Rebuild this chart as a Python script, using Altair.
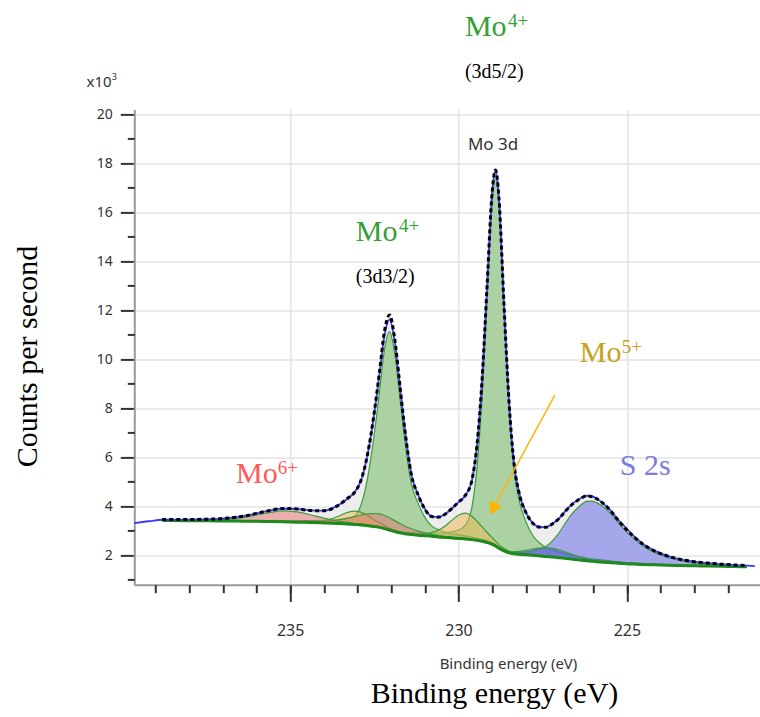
import altair as alt
import pandas as pd

# ---------------------------------------------------------------
# Mo 3d / S 2s XPS region: peak-fit components on a Shirley background
# Binding energy grid (eV) shared by the fit curves
# ---------------------------------------------------------------
energy = [
    238.8, 238.4, 238.0, 237.6, 237.2, 236.8, 236.4, 236.0, 235.6, 235.2,
    234.8, 234.4, 234.0, 233.6, 233.3, 233.1, 232.9, 232.7, 232.5, 232.35,
    232.2, 232.05, 231.9, 231.75, 231.6, 231.4, 231.2, 231.0, 230.8, 230.6,
    230.4, 230.2, 230.0, 229.8, 229.6, 229.45, 229.3, 229.15, 229.0, 228.9,
    228.8, 228.65, 228.5, 228.35, 228.2, 228.0, 227.8, 227.6, 227.4, 227.2,
    227.0, 226.8, 226.6, 226.4, 226.2, 226.05, 225.9, 225.7, 225.5, 225.3,
    225.1, 224.8, 224.5, 224.2, 223.8, 223.4, 223.0, 222.6, 222.2, 221.8, 221.45,
]

# Shirley background (counts per second, x10^3)
background = [
    3.42, 3.42, 3.41, 3.41, 3.40, 3.40, 3.39, 3.39, 3.38, 3.37,
    3.35, 3.34, 3.32, 3.30, 3.28, 3.26, 3.24, 3.21, 3.17, 3.14,
    3.09, 3.03, 2.97, 2.92, 2.88, 2.85, 2.82, 2.80, 2.78, 2.75,
    2.73, 2.71, 2.69, 2.67, 2.64, 2.61, 2.57, 2.52, 2.45, 2.38,
    2.29, 2.18, 2.10, 2.06, 2.04, 2.02, 2.00, 1.98, 1.95, 1.93,
    1.90, 1.87, 1.84, 1.81, 1.78, 1.76, 1.74, 1.72, 1.70, 1.68,
    1.66, 1.64, 1.62, 1.61, 1.59, 1.58, 1.57, 1.56, 1.55, 1.54, 1.53,
]

# Component intensities above the background (x10^3 cps)
mo4_3d52 = [
    0.006, 0.007, 0.007, 0.008, 0.009, 0.01, 0.011, 0.012, 0.014, 0.015,
    0.018, 0.02, 0.022, 0.025, 0.028, 0.03, 0.033, 0.036, 0.04, 0.042,
    0.045, 0.05, 0.055, 0.06, 0.065, 0.075, 0.085, 0.1, 0.12, 0.15,
    0.19, 0.25, 0.34, 0.55, 1.35, 3.0, 5.9, 10.0, 14.0, 15.0,
    14.0, 9.8, 5.9, 3.4, 2.2, 1.35, 0.82, 0.53, 0.37, 0.28,
    0.22, 0.18, 0.15, 0.13, 0.11, 0.10, 0.09, 0.08, 0.07, 0.06,
    0.055, 0.05, 0.045, 0.04, 0.035, 0.03, 0.027, 0.024, 0.021, 0.019, 0.017,
]
mo4_3d32 = [
    0.01, 0.011, 0.012, 0.014, 0.016, 0.019, 0.023, 0.028, 0.034, 0.043,
    0.057, 0.077, 0.11, 0.15, 0.22, 0.33, 0.8, 1.95, 3.8, 5.5,
    7.3, 8.1, 7.3, 5.6, 3.85, 2.05, 1.3, 0.75, 0.42, 0.3,
    0.22, 0.17, 0.14, 0.12, 0.1, 0.09, 0.08, 0.075, 0.07, 0.065,
    0.06, 0.055, 0.05, 0.045, 0.04, 0.037, 0.034, 0.031, 0.028, 0.026,
    0.024, 0.022, 0.02, 0.019, 0.018, 0.017, 0.016, 0.015, 0.014, 0.013,
    0.012, 0.011, 0.01, 0.01, 0.009, 0.008, 0.008, 0.007, 0.007, 0.006, 0.006,
]
mo5_3d52 = [
    0.001, 0.001, 0.001, 0.002, 0.002, 0.002, 0.002, 0.003, 0.003, 0.003,
    0.004, 0.004, 0.005, 0.006, 0.008, 0.009, 0.01, 0.011, 0.013, 0.014,
    0.016, 0.018, 0.02, 0.023, 0.027, 0.036, 0.05, 0.083, 0.148, 0.27,
    0.466, 0.715, 0.945, 1.05, 0.945, 0.78, 0.587, 0.41, 0.27, 0.20,
    0.148, 0.094, 0.064, 0.045, 0.036, 0.027, 0.021, 0.017, 0.016, 0.014,
    0.012, 0.011, 0.01, 0.009, 0.009, 0.008, 0.008, 0.007, 0.007, 0.006,
    0.006, 0.005, 0.005, 0.004, 0.004, 0.004, 0.003, 0.003, 0.003, 0.003, 0.002,
]
mo5_3d32 = [
    0.002, 0.002, 0.002, 0.003, 0.003, 0.004, 0.005, 0.006, 0.008, 0.01,
    0.015, 0.03, 0.09, 0.275, 0.47, 0.545, 0.52, 0.41, 0.275, 0.19,
    0.123, 0.078, 0.05, 0.033, 0.024, 0.015, 0.011, 0.009, 0.008, 0.007,
    0.006, 0.006, 0.005, 0.005, 0.005, 0.004, 0.004, 0.004, 0.004, 0.004,
    0.004, 0.003, 0.003, 0.003, 0.003, 0.003, 0.003, 0.003, 0.002, 0.002,
    0.002, 0.002, 0.002, 0.002, 0.002, 0.002, 0.002, 0.002, 0.002, 0.002,
    0.001, 0.001, 0.001, 0.001, 0.001, 0.001, 0.001, 0.001, 0.001, 0.001, 0.001,
]
mo6_3d52 = [
    0.003, 0.003, 0.004, 0.004, 0.005, 0.006, 0.007, 0.008, 0.011, 0.014,
    0.019, 0.031, 0.063, 0.14, 0.235, 0.317, 0.404, 0.483, 0.537, 0.55,
    0.537, 0.50, 0.446, 0.383, 0.317, 0.235, 0.168, 0.116, 0.077, 0.052,
    0.036, 0.027, 0.021, 0.017, 0.015, 0.013, 0.012, 0.011, 0.01, 0.01,
    0.009, 0.009, 0.008, 0.008, 0.007, 0.007, 0.006, 0.006, 0.005, 0.005,
    0.005, 0.004, 0.004, 0.004, 0.004, 0.003, 0.003, 0.003, 0.003, 0.003,
    0.003, 0.002, 0.002, 0.002, 0.002, 0.002, 0.002, 0.002, 0.001, 0.001, 0.001,
]
mo6_3d32 = [
    0.009, 0.012, 0.015, 0.023, 0.04, 0.077, 0.148, 0.254, 0.373, 0.446,
    0.42, 0.315, 0.197, 0.108, 0.065, 0.047, 0.034, 0.026, 0.02, 0.018,
    0.015, 0.013, 0.012, 0.011, 0.01, 0.009, 0.008, 0.007, 0.007, 0.006,
    0.006, 0.005, 0.005, 0.005, 0.004, 0.004, 0.004, 0.004, 0.004, 0.004,
    0.003, 0.003, 0.003, 0.003, 0.003, 0.003, 0.003, 0.003, 0.003, 0.002,
    0.002, 0.002, 0.002, 0.002, 0.002, 0.002, 0.002, 0.002, 0.002, 0.002,
    0.001, 0.001, 0.001, 0.001, 0.001, 0.001, 0.001, 0.001, 0.001, 0.001, 0.001,
]
s2s_main = [
    0.005, 0.005, 0.005, 0.005, 0.006, 0.006, 0.006, 0.007, 0.007, 0.008,
    0.008, 0.009, 0.009, 0.01, 0.01, 0.011, 0.011, 0.012, 0.012, 0.012,
    0.013, 0.013, 0.013, 0.014, 0.014, 0.015, 0.015, 0.015, 0.016, 0.016,
    0.017, 0.018, 0.019, 0.02, 0.022, 0.025, 0.028, 0.03, 0.035, 0.04,
    0.045, 0.05, 0.06, 0.07, 0.09, 0.12, 0.18, 0.27, 0.42, 0.68,
    1.05, 1.5, 1.9, 2.2, 2.42, 2.45, 2.41, 2.26, 2.03, 1.72,
    1.43, 1.05, 0.74, 0.52, 0.33, 0.2, 0.12, 0.08, 0.05, 0.03, 0.02,
]
s2s_minor = [
    0.002, 0.002, 0.002, 0.002, 0.002, 0.002, 0.002, 0.002, 0.002, 0.003,
    0.003, 0.003, 0.003, 0.003, 0.004, 0.004, 0.004, 0.004, 0.004, 0.004,
    0.005, 0.005, 0.005, 0.005, 0.005, 0.005, 0.005, 0.005, 0.006, 0.006,
    0.007, 0.007, 0.008, 0.008, 0.009, 0.011, 0.013, 0.016, 0.02, 0.025,
    0.03, 0.042, 0.06, 0.086, 0.12, 0.18, 0.25, 0.31, 0.355, 0.355,
    0.31, 0.25, 0.18, 0.12, 0.077, 0.054, 0.037, 0.025, 0.017, 0.013,
    0.01, 0.008, 0.006, 0.005, 0.004, 0.004, 0.003, 0.003, 0.003, 0.002, 0.002,
]

# Measured spectrum
raw_energy = [
    239.63, 239.2,
    238.8, 238.4, 238.0, 237.6, 237.2, 236.8, 236.4, 236.0, 235.6, 235.2,
    234.8, 234.4, 234.0, 233.6, 233.3, 233.1, 232.9, 232.7, 232.5, 232.35,
    232.2, 232.05, 231.9, 231.75, 231.6, 231.4, 231.2, 231.0, 230.8, 230.6,
    230.4, 230.2, 230.0, 229.8, 229.6, 229.45, 229.3, 229.15, 229.0, 228.9,
    228.8, 228.65, 228.5, 228.35, 228.2, 228.0, 227.8, 227.6, 227.4, 227.2,
    227.0, 226.8, 226.6, 226.4, 226.2, 226.05, 225.9, 225.7, 225.5, 225.3,
    225.1, 224.8, 224.5, 224.2, 223.8, 223.4, 223.0, 222.6, 222.2, 221.8, 221.45,
    221.2,
]
raw_counts = [
    3.31, 3.39,
    3.45, 3.46, 3.46, 3.47, 3.48, 3.53, 3.60, 3.71, 3.83, 3.90,
    3.89, 3.83, 3.82, 4.02, 4.31, 4.55, 5.04, 6.12, 7.82, 9.38,
    10.98, 11.62, 10.78, 9.02, 7.2, 5.3, 4.47, 3.89, 3.59, 3.56,
    3.68, 3.91, 4.17, 4.44, 5.08, 6.52, 9.19, 13.06, 16.85, 17.72,
    16.6, 12.24, 8.25, 5.73, 4.54, 3.75, 3.32, 3.16, 3.15, 3.30,
    3.53, 3.85, 4.12, 4.31, 4.43, 4.41, 4.32, 4.11, 3.85, 3.51,
    3.22, 2.79, 2.44, 2.20, 1.98, 1.83, 1.74, 1.68, 1.64, 1.60, 1.58,
    1.56,
]

# Annotations (serif): text, energy, counts, font size, colour
serif_text = ["Mo", "4+", "(3d5/2)", "Mo", "4+", "(3d3/2)", "Mo", "5+", "Mo", "6+", "S 2s"]
serif_energy = [229.81, 228.53, 229.81, 233.05, 231.77, 233.05, 226.40, 225.15, 236.61, 235.37, 225.21]
serif_counts = [23.2, 23.58, 21.48, 14.83, 15.21, 13.11, 9.89, 10.26, 4.95, 5.32, 5.28]
serif_size = [30, 19, 20, 30, 19, 20, 30, 19, 30, 19, 30]
serif_color = ["#34a034", "#34a034", "#000000", "#34a034", "#34a034", "#000000",
               "#c9a01a", "#c9a01a", "#ff5a5a", "#ff5a5a", "#7a7ae0"]

# Annotations (sans): region name and the axis multiplier
sans_text = ["Mo 3d", "x10", "3"]
sans_energy = [229.72, 241.05, 240.30]
sans_counts = [18.54, 21.10, 21.38]
sans_size = [17, 15, 9]

# Arrow pointing at the Mo5+ 3d5/2 shoulder
arrow_start = (227.14, 8.54)
arrow_tip = (228.98, 3.89)

# ---------------------------------------------------------------
components = [
    ("mo4_3d52", mo4_3d52, "#6cb85c"),
    ("mo4_3d32", mo4_3d32, "#6cb85c"),
    ("mo5_3d52", mo5_3d52, "#f0b850"),
    ("mo5_3d32", mo5_3d32, "#f0b850"),
    ("mo6_3d52", mo6_3d52, "#e87070"),
    ("mo6_3d32", mo6_3d32, "#e87070"),
    ("s2s_main", s2s_main, "#6060e8"),
    ("s2s_minor", s2s_minor, "#6060e8"),
]

fit = pd.DataFrame({"energy": energy, "background": background})
envelope = list(background)
for key, vals, _ in components:
    fit[key] = [b + v for b, v in zip(background, vals)]
    envelope = [e + v for e, v in zip(envelope, vals)]
fit["envelope"] = envelope

raw = pd.DataFrame({"energy": raw_energy, "counts": raw_counts})
serif_df = pd.DataFrame({"text": serif_text, "energy": serif_energy, "counts": serif_counts,
                         "size": serif_size, "color": serif_color})
sans_df = pd.DataFrame({"text": sans_text, "energy": sans_energy, "counts": sans_counts,
                        "size": sans_size})
arrow_df = pd.DataFrame({"e1": [arrow_start[0]], "c1": [arrow_start[1]],
                         "e2": [arrow_tip[0]], "c2": [arrow_tip[1]]})

xs = alt.Scale(domain=[221.05, 239.63], reverse=True, nice=False, zero=False)
ys = alt.Scale(domain=[0.8, 20.2], nice=False, zero=False)

SANS = "Noto Sans"
SERIF = "Liberation Serif"

major_x = alt.Axis(
    orient="bottom", values=[235, 230, 225], format="d",
    tickSize=16.7, tickWidth=2, tickColor="#333333",
    domainColor="#9a9a9a", domainWidth=2,
    labelFont=SANS, labelFontSize=16, labelColor="#333333", labelPadding=21,
    grid=True, gridColor="#e3e3e3", gridWidth=1.5,
    title="Binding energy (eV)", titleFont=SANS, titleFontSize=15,
    titleFontWeight="normal", titleColor="#333333",
    titleX=373.7, titleY=79, titleAlign="center", titleBaseline="middle",
)
minor_x = alt.Axis(
    orient="bottom", values=list(range(222, 240)),
    tickSize=8, tickWidth=2, tickColor="#333333",
    labels=False, domain=False, grid=False,
    title="Binding energy (eV)", titleFont=SERIF, titleFontSize=30,
    titleFontWeight="normal", titleColor="#000000",
    titleX=359.7, titleY=118, titleAlign="center", titleBaseline="alphabetic",
)
major_y = alt.Axis(
    orient="left", values=list(range(2, 21, 2)),
    tickSize=14, tickWidth=2, tickColor="#333333",
    domainColor="#9a9a9a", domainWidth=2,
    labelFont=SANS, labelFontSize=14, labelColor="#333333", labelPadding=8,
    grid=True, gridColor="#e3e3e3", gridWidth=1.5,
    title="Counts per second", titleFont=SERIF, titleFontSize=30,
    titleFontWeight="normal", titleColor="#000000", titleAngle=270,
    titleX=-107, titleY=246.6, titleAlign="center", titleBaseline="middle",
)
minor_y = alt.Axis(
    orient="left", values=list(range(1, 20, 2)),
    tickSize=7, tickWidth=2, tickColor="#333333",
    labels=False, domain=False, grid=False, title=None,
)


def ex(axis=None):
    return alt.X("energy:Q", scale=xs, axis=axis)


layers = []

# light-grey region under the fitted envelope
layers.append(
    alt.Chart(fit).mark_area(interpolate="monotone", color="#ededed").encode(
        x=ex(major_x), y=alt.Y("background:Q", scale=ys, axis=major_y), y2="envelope:Q"
    )
)

# fitted components, each filled from the background
for key, _, colour in components:
    layers.append(
        alt.Chart(fit).mark_area(
            interpolate="monotone", fill=colour, fillOpacity=0.5,
            stroke="#3c9c3c", strokeWidth=1.2,
        ).encode(x=ex(), y=alt.Y("background:Q", scale=ys, axis=None), y2=f"{key}:Q")
    )

# background line
layers.append(
    alt.Chart(fit).mark_line(interpolate="monotone", color="#1d8a1d", strokeWidth=3).encode(
        x=ex(minor_x), y=alt.Y("background:Q", scale=ys, axis=minor_y)
    )
)

# measured spectrum
layers.append(
    alt.Chart(raw).mark_line(interpolate="monotone", color="#3a3aff", strokeWidth=1.8).encode(
        x=ex(), y=alt.Y("counts:Q", scale=ys, axis=None)
    )
)

# fitted envelope
layers.append(
    alt.Chart(fit).mark_line(interpolate="monotone", color="#000000", strokeWidth=3,
                             strokeDash=[4, 3]).encode(
        x=ex(), y=alt.Y("envelope:Q", scale=ys, axis=None)
    )
)

# arrow
layers.append(
    alt.Chart(arrow_df).mark_rule(color="#ffb400", strokeWidth=1.5).encode(
        x=alt.X("e1:Q", scale=xs, axis=None), y=alt.Y("c1:Q", scale=ys, axis=None),
        x2="e2:Q", y2="c2:Q",
    )
)
layers.append(
    alt.Chart(arrow_df).mark_point(shape="triangle-up", angle=208.9, filled=True,
                                   size=200, color="#ffb400", opacity=1).encode(
        x=alt.X("e2:Q", scale=xs, axis=None), y=alt.Y("c2:Q", scale=ys, axis=None)
    )
)

# labels
layers.append(
    alt.Chart(serif_df).mark_text(font=SERIF, align="left", baseline="alphabetic").encode(
        x=ex(), y=alt.Y("counts:Q", scale=ys, axis=None), text="text:N",
        size=alt.Size("size:Q", scale=None), color=alt.Color("color:N", scale=None),
    )
)
layers.append(
    alt.Chart(sans_df).mark_text(font=SANS, align="left", baseline="alphabetic",
                                 color="#333333").encode(
        x=ex(), y=alt.Y("counts:Q", scale=ys, axis=None), text="text:N",
        size=alt.Size("size:Q", scale=None),
    )
)

chart = (
    alt.layer(*layers)
    .resolve_axis(x="independent", y="independent")
    .properties(
        width=625.6, height=475.3, autosize="none", background="white",
        padding={"left": 134.3, "top": 109.4, "right": 0, "bottom": 132.3},
    )
    .configure_view(strokeWidth=0)
)

chart.save("out.html", embed_options={"renderer": "svg", "actions": False})
